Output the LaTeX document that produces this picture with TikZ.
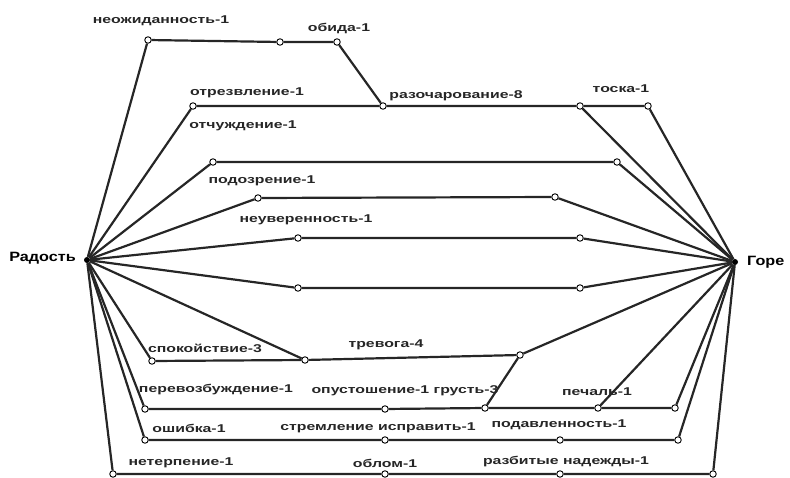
\documentclass[tikz,border=0pt]{standalone}
\usepackage{fontspec}
\newfontfamily\labfont[FakeStretch=1.4]{Liberation Sans}
\newfontfamily\hubfont[FakeStretch=1.2]{Liberation Sans}
\usetikzlibrary{backgrounds}
\begin{document}
\begin{tikzpicture}[x=1pt,y=-1pt,
  dot/.style={circle,draw=black,fill=white,inner sep=0pt,minimum size=6.5pt,line width=0.9pt},
  hub/.style={circle,fill=black,inner sep=0pt,minimum size=6pt},
  lab/.style={font=\labfont\bfseries\fontsize{11.3}{12}\selectfont,inner sep=0pt,text=black!85},
  hublab/.style={font=\hubfont\bfseries\fontsize{13.5}{14}\selectfont,inner sep=0pt},
  link/.style={line width=2.2pt,draw=black!85}]
\useasboundingbox (0,0) rectangle (790,478);
% hubs
\node[hub] (R) at (87,260) {};
\node[hub] (G) at (735,262) {};
\node[hublab,anchor=east] (Rl) at (76,258) {Радость};
\node[hublab,anchor=west] (Gl) at (747,262) {Горе};
% points
\node[dot] (A1) at (148,40) {};
\node[dot] (A2) at (280,42) {};
\node[dot] (A3) at (337,42) {};
\node[dot] (B1) at (193,106) {};
\node[dot] (B2) at (383,106) {};
\node[dot] (B3) at (580,106) {};
\node[dot] (B4) at (648,106) {};
\node[dot] (C1) at (213,162) {};
\node[dot] (C2) at (617,162) {};
\node[dot] (D1) at (258,198) {};
\node[dot] (D2) at (555,197) {};
\node[dot] (E1) at (298,238) {};
\node[dot] (E2) at (580,238) {};
\node[dot] (F1) at (298,288) {};
\node[dot] (F2) at (580,288) {};
\node[dot] (G1) at (152,361) {};
\node[dot] (G2) at (305,360) {};
\node[dot] (G3) at (520,355) {};
\node[dot] (H1) at (145,409) {};
\node[dot] (H2) at (385,409) {};
\node[dot] (H3) at (485,408) {};
\node[dot] (H4) at (598,408) {};
\node[dot] (H5) at (675,408) {};
\node[dot] (I1) at (145,440) {};
\node[dot] (I2) at (385,440) {};
\node[dot] (I3) at (560,440) {};
\node[dot] (I4) at (678,440) {};
\node[dot] (J1) at (113,474) {};
\node[dot] (J2) at (385,474) {};
\node[dot] (J3) at (560,474) {};
\node[dot] (J4) at (713,474) {};
% labels
\node[lab] (l1) at (161,21) {неожиданность-1};
\node[lab] (l2) at (339,28) {обида-1};
\node[lab] (l3) at (247,93) {отрезвление-1};
\node[lab] (l4) at (456,96) {разочарование-8};
\node[lab] (l5) at (621,89) {тоска-1};
\node[lab] (l6) at (243,126) {отчуждение-1};
\node[lab] (l7) at (262,181) {подозрение-1};
\node[lab] (l8) at (306,220) {неуверенность-1};
\node[lab] (l9) at (205,348) {спокойствие-3};
\node[lab] (l10) at (386,345) {тревога-4};
\node[lab] (l11) at (216,390) {перевозбуждение-1};
\node[lab] (l12) at (405,391) {опустошение-1 грусть-3};
\node[lab] (l13) at (597,392) {печаль-1};
\node[lab] (l14) at (189,428) {ошибка-1};
\node[lab] (l15) at (378,428) {стремление исправить-1};
\node[lab] (l16) at (559,425) {подавленность-1};
\node[lab] (l17) at (181,463) {нетерпение-1};
\node[lab] (l18) at (385,463) {облом-1};
\node[lab] (l19) at (566,462) {разбитые надежды-1};
\begin{scope}[on background layer]
\draw[link] (R) -- (A1) -- (A2) -- (A3) -- (B2);
\draw[link] (R) -- (B1) -- (B2) -- (B3) -- (B4) -- (G);
\draw[link] (B3) -- (G);
\draw[link] (R) -- (C1) -- (C2) -- (G);
\draw[link] (R) -- (D1) -- (D2) -- (G);
\draw[link] (R) -- (E1) -- (E2) -- (G);
\draw[link] (R) -- (F1) -- (F2) -- (G);
\draw[link] (R) -- (G1) -- (G2) -- (G3) -- (G);
\draw[link] (R) -- (G2);
\draw[link] (G3) -- (H3);
\draw[link] (R) -- (H1) -- (H2) -- (H3) -- (H4) -- (H5) -- (G);
\draw[link] (H4) -- (G);
\draw[link] (R) -- (I1) -- (I2) -- (I3) -- (I4) -- (G);
\draw[link] (R) -- (J1) -- (J2) -- (J3) -- (J4) -- (G);
\end{scope}
\end{tikzpicture}
\end{document}
